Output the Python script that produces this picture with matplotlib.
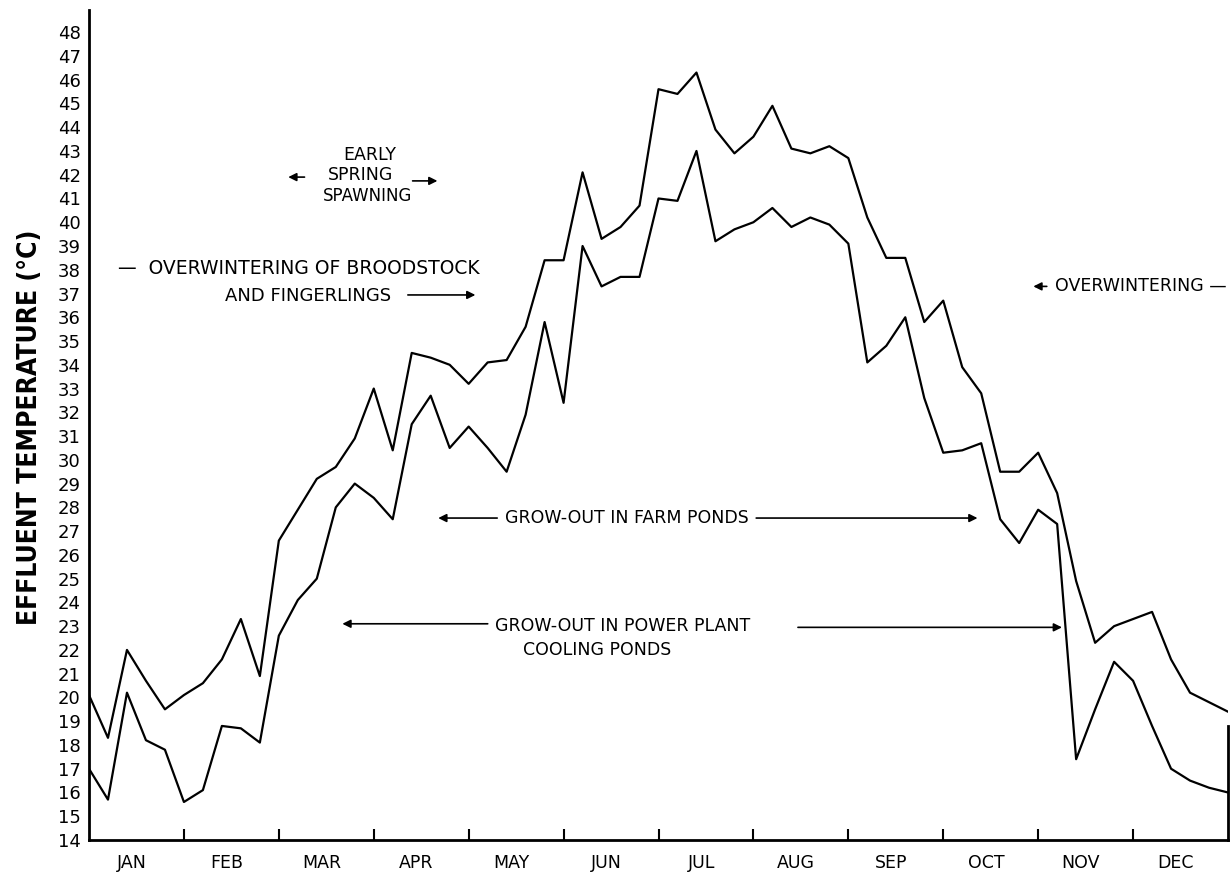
import numpy as np
import matplotlib
matplotlib.use("Agg")
import matplotlib.pyplot as plt

# weekly-ish readings (5 per month)
upper = [20.1, 18.3, 22.0, 20.7, 19.5, 20.1, 20.6, 21.6, 23.3, 20.9,
         26.6, 27.9, 29.2, 29.7, 30.9, 33.0, 30.4, 34.5, 34.3, 34.0,
         33.2, 34.1, 34.2, 35.6, 38.4, 38.4, 42.1, 39.3, 39.8, 40.7,
         45.6, 45.4, 46.3, 43.9, 42.9, 43.6, 44.9, 43.1, 42.9, 43.2,
         42.7, 40.2, 38.5, 38.5, 35.8, 36.7, 33.9, 32.8, 29.5, 29.5,
         30.3, 28.6, 24.9, 22.3, 23.0, 23.3, 23.6, 21.6, 20.2, 19.8, 19.4]
lower = [17.0, 15.7, 20.2, 18.2, 17.8, 15.6, 16.1, 18.8, 18.7, 18.1,
         22.6, 24.1, 25.0, 28.0, 29.0, 28.4, 27.5, 31.5, 32.7, 30.5,
         31.4, 30.5, 29.5, 31.9, 35.8, 32.4, 39.0, 37.3, 37.7, 37.7,
         41.0, 40.9, 43.0, 39.2, 39.7, 40.0, 40.6, 39.8, 40.2, 39.9,
         39.1, 34.1, 34.8, 36.0, 32.6, 30.3, 30.4, 30.7, 27.5, 26.5,
         27.9, 27.3, 17.4, 19.5, 21.5, 20.7, 18.8, 17.0, 16.5, 16.2, 16.0]
months = ['JAN', 'FEB', 'MAR', 'APR', 'MAY', 'JUN',
          'JUL', 'AUG', 'SEP', 'OCT', 'NOV', 'DEC']
yticks = list(range(14, 49))

x = np.arange(len(upper)) / 5.0

fig = plt.figure(figsize=(12.3, 8.88), dpi=100)
ax = fig.add_axes([89 / 1230, 48 / 888, 1139 / 1230, 830 / 888])

ax.plot(x, upper, color='black', lw=1.6)
ax.plot(x, lower, color='black', lw=1.6)

ax.set_xlim(0, 12)
ax.set_ylim(14, 14 + 830 / 23.76)

for s in ['top', 'right']:
    ax.spines[s].set_visible(False)
for s in ['left', 'bottom']:
    ax.spines[s].set_linewidth(2.0)
# short piece of the right frame
ax.plot([12, 12], [14, 18.8], color='black', lw=2.0, clip_on=False)

ax.set_yticks(yticks)
ax.set_yticklabels([str(v) for v in yticks], fontsize=13)
ax.tick_params(axis='y', length=0, pad=6)

ax.set_xticks(range(1, 12))
ax.set_xticklabels([])
ax.tick_params(axis='x', which='major', direction='in', length=8, width=1.5)
ax.set_xticks(np.arange(12) + 0.45, minor=True)
ax.set_xticklabels(months, minor=True, fontsize=12.5)
ax.tick_params(axis='x', which='minor', length=0, pad=10)

fig.text(30 / 1230, 1 - 427 / 888, 'EFFLUENT TEMPERATURE (°C)', rotation=90,
         ha='center', va='center', fontsize=19, fontweight='bold',
         fontstretch='condensed', family='DejaVu Sans')

arrow = dict(arrowstyle='-|>', color='black', lw=1.2, mutation_scale=12)
fs = 12.5

# early spring spawning
ax.text(2.96, 42.83, 'EARLY', ha='center', va='center', fontsize=fs)
ax.text(2.86, 41.99, 'SPRING', ha='center', va='center', fontsize=fs)
ax.text(2.94, 41.10, 'SPAWNING', ha='center', va='center', fontsize=12)
ax.annotate('', xy=(2.07, 41.9), xytext=(2.30, 41.9), arrowprops=arrow)
ax.annotate('', xy=(3.70, 41.74), xytext=(3.38, 41.74), arrowprops=arrow)

# overwintering of broodstock
ax.text(0.31, 38.07, '—  OVERWINTERING OF BROODSTOCK', ha='left', va='center', fontsize=13.5)
ax.text(1.43, 36.9, 'AND FINGERLINGS', ha='left', va='center', fontsize=13)
ax.annotate('', xy=(4.10, 36.94), xytext=(3.33, 36.94), arrowprops=arrow)

# grow-out in farm ponds
ax.text(4.38, 27.55, 'GROW-OUT IN FARM PONDS', ha='left', va='center', fontsize=fs)
ax.annotate('', xy=(3.65, 27.55), xytext=(4.33, 27.55), arrowprops=arrow)
ax.annotate('', xy=(9.39, 27.55), xytext=(7.0, 27.55), arrowprops=arrow)

# grow-out in power plant cooling ponds
ax.text(4.28, 23.0, 'GROW-OUT IN POWER PLANT', ha='left', va='center', fontsize=fs)
ax.text(5.35, 22.0, 'COOLING PONDS', ha='center', va='center', fontsize=fs)
ax.annotate('', xy=(2.64, 23.1), xytext=(4.23, 23.1), arrowprops=arrow)
ax.annotate('', xy=(10.28, 22.95), xytext=(7.44, 22.95), arrowprops=arrow)

# overwintering (late year)
ax.text(10.18, 37.3, 'OVERWINTERING —', ha='left', va='center', fontsize=fs)
ax.annotate('', xy=(9.92, 37.3), xytext=(10.12, 37.3), arrowprops=arrow)

fig.savefig('out.png', dpi=100)
